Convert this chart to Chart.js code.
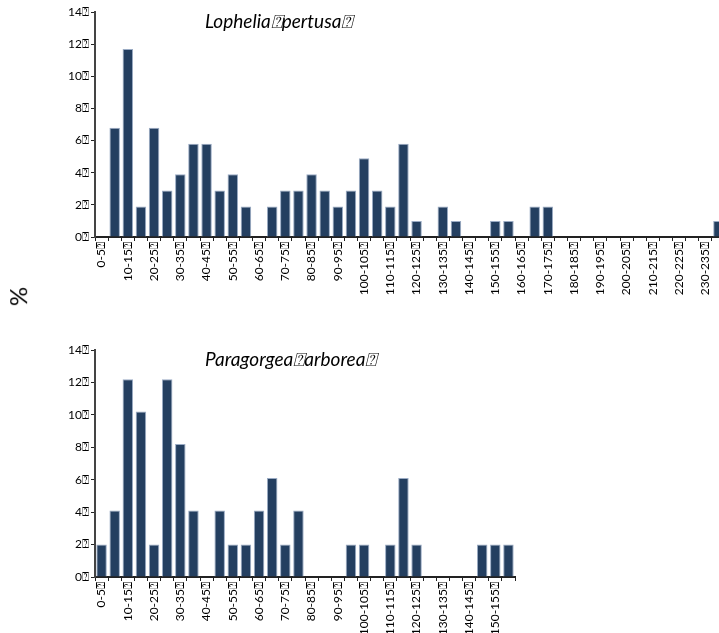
<!DOCTYPE html>
<html lang="en">
<head>
    <meta charset="UTF-8">
    <title>Depth histograms</title>
    <style>
    body {
        margin: 0;
        padding: 0;
        width: 719px;
        height: 633px;
        overflow: hidden;
        position: relative;
        background: #fff;
        font-family: Lato, "Open Sans", sans-serif;
    }
    .box { position: absolute; left: 0; }
    #pct {
        position: absolute;
        left: 8px;
        top: 282px;
        font-size: 24px;
        color: #000;
        transform: rotate(-90deg);
        transform-origin: center;
    }
    </style>
    <script src="https://cdn.jsdelivr.net/npm/chart.js"></script>
</head>
<body>
    <div class="box" style="top:0px;"><canvas id="chartTop" width="740" height="300"></canvas></div>
    <div class="box" style="top:338px;"><canvas id="chartBottom" width="530" height="295"></canvas></div>
    <div id="pct">%</div>

    <script>
    // size classes (every 5 units)
    const topClasses = ['0-5','5-10','10-15','15-20','20-25','25-30','30-35','35-40','40-45','45-50',
        '50-55','55-60','60-65','65-70','70-75','75-80','80-85','85-90','90-95','95-100',
        '100-105','105-110','110-115','115-120','120-125','125-130','130-135','135-140','140-145','145-150',
        '150-155','155-160','160-165','165-170','170-175','175-180','180-185','185-190','190-195','195-200',
        '200-205','205-210','210-215','215-220','220-225','225-230','230-235','235-240'];
    const bottomClasses = topClasses.slice(0, 32);

    // % values
    const lopheliaPct = [0, 6.8, 11.7, 1.9, 6.8, 2.9, 3.9, 5.8, 5.8, 2.9,
        3.9, 1.9, 0, 1.9, 2.9, 2.9, 3.9, 2.9, 1.9, 2.9,
        4.9, 2.9, 1.9, 5.8, 1.0, 0, 1.9, 1.0, 0, 0,
        1.0, 1.0, 0, 1.9, 1.9, 0, 0, 0, 0, 0,
        0, 0, 0, 0, 0, 0, 0, 1.0];
    const paragorgeaPct = [2.0, 4.1, 12.2, 10.2, 2.0, 12.2, 8.2, 4.1, 0, 4.1,
        2.0, 2.0, 4.1, 6.1, 2.0, 4.1, 0, 0, 0, 2.0,
        2.0, 0, 2.0, 6.1, 2.0, 0, 0, 0, 0, 2.0,
        2.0, 2.0];

    const yTicks = [0, 2, 4, 6, 8, 10, 12, 14];
    const box = '\u2370';

    // species name drawn inside the plot area
    const innerTitle = {
        id: 'innerTitle',
        afterDraw(chart, args, opts) {
            const ctx = chart.ctx;
            ctx.save();
            ctx.font = 'italic 19px Lato, "Open Sans", sans-serif';
            ctx.fillStyle = '#000';
            ctx.textBaseline = 'middle';
            ctx.textAlign = 'left';
            ctx.fillText(opts.text, chart.chartArea.left + 110, chart.chartArea.top + 10);
            ctx.restore();
        }
    };

    function makeChart(id, labels, values, title, axisHeight) {
        const ctx = document.getElementById(id).getContext('2d');
        return new Chart(ctx, {
            type: 'bar',
            data: {
                labels: labels,
                datasets: [{
                    data: values,
                    backgroundColor: '#243f60',
                    borderColor: '#9aabc4',
                    borderWidth: 1,
                    barPercentage: 0.8,
                    categoryPercentage: 1.0
                }]
            },
            options: {
                responsive: false,
                animation: false,
                layout: { padding: { left: 0, right: 15, top: 12, bottom: 0 } },
                plugins: {
                    legend: { display: false },
                    tooltip: { enabled: false },
                    innerTitle: { text: title }
                },
                scales: {
                    x: {
                        offset: true,
                        grid: { drawOnChartArea: false, tickLength: 4, color: '#222', offset: true },
                        border: { color: '#222', width: 2 },
                        ticks: {
                            autoSkip: false,
                            minRotation: 90,
                            maxRotation: 90,
                            padding: 1,
                            color: '#000',
                            font: { size: 12, family: 'Lato' },
                            callback: function(value, index) {
                                return index % 2 === 0 ? labels[index] + box : '';
                            }
                        },
                        afterFit: function(scale) { scale.height = axisHeight; }
                    },
                    y: {
                        min: 0,
                        max: 14,
                        afterBuildTicks: function(scale) {
                            scale.ticks = yTicks.map(v => ({ value: v }));
                        },
                        grid: { drawOnChartArea: false, tickLength: 4, color: '#222' },
                        border: { color: '#444', width: 2 },
                        ticks: {
                            color: '#000',
                            padding: 2,
                            font: { size: 12, family: 'Lato' },
                            callback: function(value) { return value + box; }
                        },
                        afterFit: function(scale) { scale.width = 95; }
                    }
                }
            },
            plugins: [innerTitle]
        });
    }

    makeChart('chartTop', topClasses, lopheliaPct, 'Lophelia' + box + 'pertusa' + box, 63);
    makeChart('chartBottom', bottomClasses, paragorgeaPct, 'Paragorgea' + box + 'arborea' + box, 56);
    </script>
</body>
</html>
